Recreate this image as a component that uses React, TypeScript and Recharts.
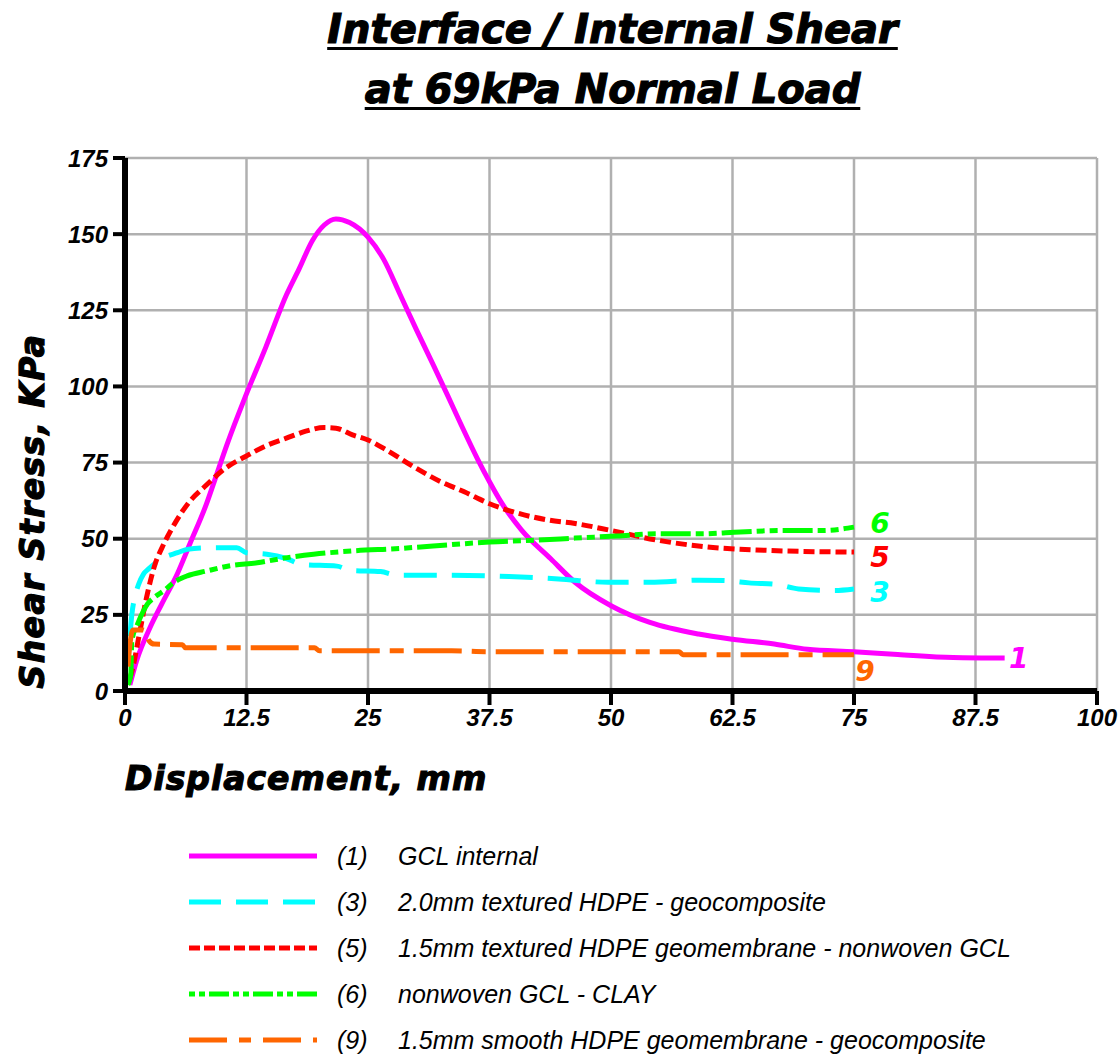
import { LineChart, Line, XAxis, YAxis, CartesianGrid } from "recharts";

// displacement (mm) / shear stress (kPa) pairs
const GCL_INTERNAL = [
  [0.5, 2], [1.2, 10], [2.6, 21], [3.8, 28.7], [5.4, 38.6], [6.7, 48.5], [8.4, 61.6],
  [9.1, 68], [10.5, 81], [12.3, 96], [14.5, 113], [16.6, 130], [17.9, 138.5], [19.3, 148],
  [20.5, 153], [21.7, 155], [23.1, 153.8], [25, 149], [26.6, 141.8], [28.3, 130.2], [30, 118.5],
  [31.8, 106.5], [33.2, 97], [34.5, 88], [36.3, 76], [37.5, 68.7], [38.7, 62], [40.8, 52.8],
  [43.8, 43.4], [46.3, 35.7], [50, 28], [54, 22.5], [59, 18.7], [62.5, 17], [66.8, 15.4],
  [70.2, 13.7], [75, 12.9], [79.5, 12], [85.2, 11], [90.5, 10.8],
];
const TEXTURED_GEOCOMPOSITE = [
  [0.5, 18], [0.7, 25], [1.1, 31.9], [1.4, 35], [1.9, 38.4], [2.4, 40], [4, 43.8], [5.4, 45.4],
  [6.4, 46.5], [8.4, 47], [11.5, 47], [12.5, 45.4], [14.6, 44.9], [16.6, 43.5], [18.3, 41.5],
  [21.8, 41], [23.2, 39.6], [26.3, 39.2], [28, 38], [33.6, 38], [39.5, 37.6], [44.6, 36.8],
  [49.7, 35.7], [54, 35.7], [59.1, 36.4], [62, 36.2], [64.2, 35.5], [67, 35], [69.3, 33.5],
  [73, 33], [75, 33.5],
];
const TEXTURED_GCL = [
  [0.5, 4], [0.9, 9], [1.4, 17.4], [2.3, 31.9], [3.1, 41.7], [3.8, 47], [4.7, 52.6], [5.7, 58],
  [6.7, 62.4], [8.1, 66.8], [10.4, 73.3], [12.4, 77], [14.5, 80.5], [16.6, 83], [18.6, 85.3],
  [20.5, 86.5], [21.7, 86.3], [23.4, 84.1], [25, 82.4], [26.9, 79.1], [29.7, 73.6], [32.5, 68.7],
  [34.9, 65.4], [37.5, 61.5], [40.5, 58.3], [43.6, 56.1], [46.3, 55], [50, 52.7], [54.8, 49.5],
  [59.9, 47.3], [65.9, 46.2], [75, 45.6],
];
const GCL_CLAY = [
  [0.3, 2], [0.6, 5.6], [0.7, 16.4], [1.3, 22], [1.9, 26.3], [2.3, 28.5], [3, 30.7], [4, 32.9],
  [5, 35.6], [6.4, 37.8], [8.4, 39.4], [10.8, 41.1], [13.6, 42.1], [16.7, 43.8], [19.4, 44.9],
  [23.5, 46], [28.3, 46.8], [31.7, 47.6], [37.5, 48.9], [42.1, 49.5], [46.3, 50.2], [50.6, 50.9],
  [54.8, 51.6], [59.1, 51.6], [63.3, 52.2], [67.5, 52.7], [71.8, 52.7], [75, 53.8],
];
const SMOOTH_GEOCOMPOSITE = [
  [0.3, 8], [0.5, 15], [0.8, 20], [1.9, 20], [2.5, 16.4], [3, 15.4], [5.9, 15.2], [6.2, 14.2],
  [19.5, 14.2], [20, 13.2], [33.6, 13.2], [37.5, 12.9], [57, 12.9], [57.4, 11.9], [75, 11.9],
];

const X_TICKS = [0, 12.5, 25, 37.5, 50, 62.5, 75, 87.5, 100];
const Y_TICKS = [0, 25, 50, 75, 100, 125, 150, 175];

const SERIES = [
  { id: "1", name: "GCL internal", data: GCL_INTERNAL, color: "#ff00ff", dash: undefined, legendDash: undefined, dx: 14, dy: 0 },
  { id: "3", name: "2.0mm textured HDPE - geocomposite", data: TEXTURED_GEOCOMPOSITE, color: "#00ffff", dash: "33 15", legendDash: "32 15", dx: 26, dy: 4 },
  { id: "5", name: "1.5mm textured HDPE geomembrane - nonwoven GCL", data: TEXTURED_GCL, color: "#ff0000", dash: "11 5", legendDash: "11 4", dx: 26, dy: 5 },
  { id: "6", name: "nonwoven GCL - CLAY", data: GCL_CLAY, color: "#00ff00", dash: "30 5 8 5 8 5", legendDash: "6 4 6 4 20 4", dx: 26, dy: -4 },
  { id: "9", name: "1.5mm smooth HDPE geomembrane - geocomposite", data: SMOOTH_GEOCOMPOSITE, color: "#ff6600", dash: "48 10 14 10", legendDash: "38 12 12 12", dx: 11, dy: 17 },
];

const toPoints = (pairs: number[][]) => pairs.map(([x, y]) => ({ x, y }));

const HEAVY = "'DejaVu Sans', sans-serif";
const heavyText = {
  fontFamily: HEAVY,
  fontWeight: 700,
  fontStyle: "italic",
  WebkitTextStroke: "1.2px #000",
} as const;
const tickStyle = {
  fill: "#000",
  fontSize: 24,
  fontWeight: 700,
  fontStyle: "italic",
  fontFamily: "'Liberation Sans', Arial, sans-serif",
};

function endLabel(text: string, color: string, dx: number, dy: number, last: number) {
  return (props: any) => {
    if (props.index !== last) return null;
    return (
      <text
        x={props.x + dx}
        y={props.y + dy}
        textAnchor="middle"
        dominantBaseline="central"
        fill={color}
        fontFamily={HEAVY}
        fontWeight={700}
        fontStyle="italic"
        fontSize={28}
      >
        {text}
      </text>
    );
  };
}

export default function App() {
  return (
    <div style={{ position: "absolute", left: 0, top: 0, width: 1119, height: 1054, background: "#fff", overflow: "hidden" }}>
      <div
        style={{
          ...heavyText,
          position: "absolute",
          left: 0,
          width: 1225,
          top: -1,
          textAlign: "center",
          fontSize: 40,
          lineHeight: "60px",
          textDecoration: "underline",
          textDecorationThickness: 3,
          textUnderlineOffset: 4,
        }}
      >
        <div>Interface / Internal Shear</div>
        <div>at 69kPa Normal Load</div>
      </div>

      <LineChart width={1119} height={1054} margin={{ top: 158, right: 22, bottom: 323, left: 65 }}>
        <CartesianGrid stroke="#b0b0b0" strokeWidth={2.5} />
        <XAxis
          dataKey="x"
          type="number"
          domain={[0, 100]}
          ticks={X_TICKS}
          interval={0}
          allowDataOverflow
          height={40}
          axisLine={{ stroke: "#000", strokeWidth: 6 }}
          tickLine={{ stroke: "#000", strokeWidth: 4 }}
          tickSize={14}
          tickMargin={4}
          tick={tickStyle}
        />
        <YAxis
          type="number"
          domain={[0, 175]}
          ticks={Y_TICKS}
          interval={0}
          width={60}
          axisLine={{ stroke: "#000", strokeWidth: 6 }}
          tickLine={{ stroke: "#000", strokeWidth: 4 }}
          tickSize={12}
          tickMargin={5}
          tick={tickStyle}
        />
        {SERIES.map((s) => (
          <Line
            key={s.id}
            data={toPoints(s.data)}
            dataKey="y"
            type="monotoneX"
            stroke={s.color}
            strokeWidth={5}
            strokeDasharray={s.dash}
            dot={false}
            isAnimationActive={false}
            label={endLabel(s.id, s.color, s.dx, s.dy, s.data.length - 1)}
          />
        ))}
      </LineChart>

      <div
        style={{
          ...heavyText,
          position: "absolute",
          left: 32,
          top: 511,
          transform: "translate(-50%, -50%) rotate(-90deg)",
          whiteSpace: "nowrap",
          fontSize: 33,
          letterSpacing: 1.4,
        }}
      >
        Shear Stress, KPa
      </div>
      <div
        style={{
          ...heavyText,
          position: "absolute",
          left: 125,
          top: 759,
          lineHeight: "40px",
          whiteSpace: "nowrap",
          fontSize: 33,
          letterSpacing: 1,
        }}
      >
        Displacement, mm
      </div>

      {SERIES.map((s, i) => (
        <div key={s.id} style={{ position: "absolute", left: 189, top: 856 + i * 46 - 20, height: 40, display: "flex", alignItems: "center" }}>
          <svg width={128} height={10}>
            <line x1={0} y1={5} x2={128} y2={5} stroke={s.color} strokeWidth={5} strokeDasharray={s.legendDash} />
          </svg>
          <span style={{ position: "absolute", left: 148, fontFamily: "'Liberation Sans', Arial, sans-serif", fontStyle: "italic", fontSize: 25, whiteSpace: "nowrap" }}>
            ({s.id})
          </span>
          <span style={{ position: "absolute", left: 209, fontFamily: "'Liberation Sans', Arial, sans-serif", fontStyle: "italic", fontSize: 25, whiteSpace: "nowrap" }}>
            {s.name}
          </span>
        </div>
      ))}
    </div>
  );
}
